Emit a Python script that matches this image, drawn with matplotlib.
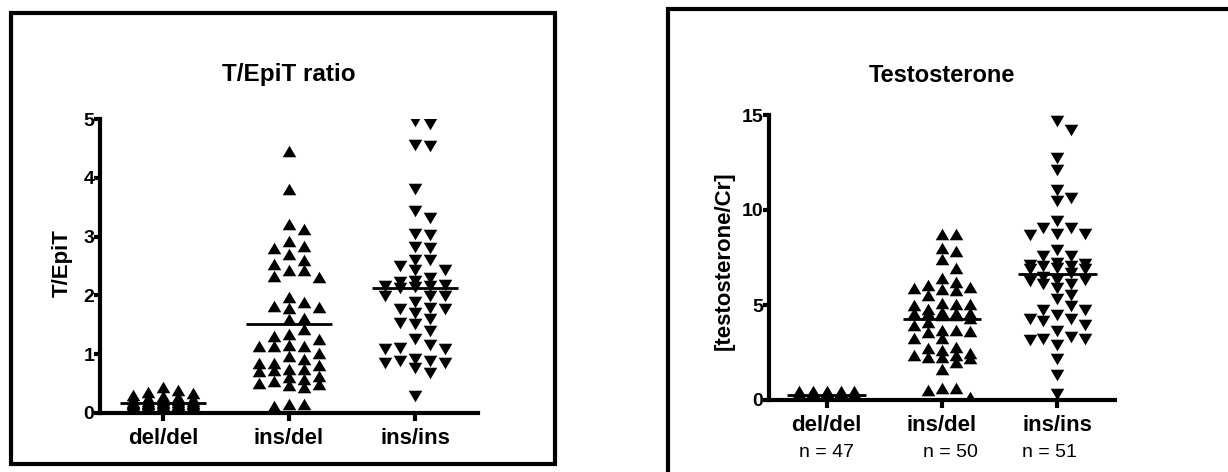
import matplotlib
matplotlib.use('Agg')

import matplotlib.pyplot as plt
from matplotlib.patches import Rectangle
import numpy as np

plt.rcParams['font.family'] = ['Liberation Sans', 'DejaVu Sans']

# ---- data ----
groups = ['del/del', 'ins/del', 'ins/ins']
n_labels = ['n = 47', 'n = 50', 'n = 51']

ratio_deldel = [0.02, 0.03, 0.04, 0.05, 0.05, 0.06, 0.07, 0.07, 0.08, 0.08,
                0.09, 0.09, 0.10, 0.10, 0.10, 0.11, 0.11, 0.12, 0.12, 0.12,
                0.13, 0.13, 0.14, 0.14, 0.15, 0.15, 0.16, 0.16, 0.17, 0.17,
                0.18, 0.18, 0.19, 0.20, 0.20, 0.21, 0.22, 0.23, 0.24, 0.25,
                0.27, 0.29, 0.31, 0.33, 0.35, 0.38, 0.44]
ratio_insdel = [4.46, 3.81, 3.22, 3.13, 2.93, 2.80, 2.84, 2.70, 2.61, 2.53,
                2.43, 2.43, 2.31, 2.33, 1.97, 1.88, 1.80, 1.79, 1.82, 1.62,
                1.59, 1.42, 1.34, 1.31, 1.25, 1.14, 1.14, 1.14, 1.16, 0.97,
                1.02, 0.91, 0.85, 0.82, 0.85, 0.72, 0.74, 0.74, 0.71, 0.63,
                0.57, 0.60, 0.51, 0.48, 0.49, 0.54, 0.43, 0.14, 0.11, 0.14]
ratio_insins = [4.97, 4.92, 4.55, 4.56, 3.81, 3.43, 3.31, 3.02, 3.04, 2.82,
                2.80, 2.61, 2.50, 2.60, 2.43, 2.44, 2.30, 2.22, 2.24, 2.16,
                2.16, 2.13, 2.14, 2.18, 1.99, 1.99, 1.99, 1.88, 1.76, 1.70,
                1.76, 1.79, 1.59, 1.53, 1.52, 1.39, 1.25, 1.08, 1.08, 1.11,
                1.16, 0.85, 0.88, 0.77, 0.91, 0.85, 0.88, 0.68, 0.28]

testo_deldel = [0.08, 0.10, 0.11, 0.12, 0.13, 0.14, 0.15, 0.16, 0.17, 0.18,
                0.18, 0.19, 0.20, 0.20, 0.21, 0.22, 0.22, 0.23, 0.24, 0.24,
                0.25, 0.26, 0.26, 0.27, 0.28, 0.28, 0.29, 0.30, 0.30, 0.31,
                0.32, 0.33, 0.33, 0.34, 0.35, 0.36, 0.37, 0.38, 0.39, 0.40,
                0.42, 0.44, 0.45, 0.47, 0.48, 0.49, 0.50]
testo_insdel = [8.74, 8.76, 7.84, 7.98, 7.40, 6.97, 6.40, 5.88, 6.05, 5.79,
                6.23, 5.84, 5.96, 5.53, 5.00, 5.03, 5.09, 5.03, 4.80, 4.56,
                4.56, 4.65, 4.56, 4.56, 4.09, 3.68, 3.68, 3.63, 3.60, 3.95,
                3.25, 3.25, 2.72, 2.28, 2.37, 2.02, 2.37, 2.46, 2.63, 2.19,
                2.81, 2.28, 1.63, 0.61, 0.17, 0.53, 0.61, 4.50, 4.50, 4.30]
testo_insins = [14.67, 14.20, 12.75, 12.13, 11.04, 10.64, 10.46, 9.41, 9.06, 8.66,
                8.76, 8.76, 9.06, 7.92, 7.60, 7.60, 6.87, 7.18, 7.04, 7.04,
                6.96, 7.22, 6.69, 6.87, 6.34, 6.13, 6.08, 6.25, 6.30, 5.55,
                5.29, 4.76, 4.94, 4.76, 4.24, 4.15, 3.97, 4.24, 4.50, 3.62,
                3.33, 3.22, 2.92, 3.15, 3.22, 2.17, 1.34, 0.29, 7.13, 6.50,
                5.90]

tri_up = [(-1, -0.85), (1, -0.85), (0, 0.85)]
tri_down = [(-1, 0.85), (1, 0.85), (0, -0.85)]
MS = 9.8          # marker size in points
MW, MH = 13, 11   # marker box in pixels


def swarm(ax, xc, vals, step=0.12, max_k=2):
    """GraphPad-like scatter: spread close values sideways into columns."""
    vals = np.asarray(vals, float)
    tr = ax.transData
    ys = tr.transform(np.column_stack([np.full(len(vals), xc), vals]))[:, 1]
    x0 = tr.transform((xc, 0))[0]
    st = tr.transform((xc + step, 0))[0] - x0
    full = [k for k in sorted(range(-max_k, max_k + 1), key=lambda k: (abs(k), -k))]
    halfs = [k + s * 0.5 for k in range(max_k) for s in (1, -1)]
    halfs = [h if h > 0 else -(abs(h)) for h in halfs]
    halfs = [0.5, -0.5, 1.5, -1.5][:2 * max_k]
    placed = []
    xs = np.zeros(len(vals))

    def score_at(xo, y):
        sc = 0.0
        for px, py in placed:
            dx, dy = abs(px - xo), abs(py - y)
            if dx < MW * 0.98 and dy < MH * 0.95:
                sc += (MW - dx) * (MH - dy)
        return sc

    for i in np.argsort(-vals):
        pick = None
        for k in full + halfs:
            if score_at(k * st, ys[i]) == 0:
                pick = k
                break
        if pick is None:
            pick = min(full, key=lambda k: score_at(k * st, ys[i]))
        placed.append((pick * st, ys[i]))
        xs[i] = x0 + pick * st
    return tr.inverted().transform(np.column_stack([xs, ys]))[:, 0]


def style_axes(ax, ymax, yticks):
    ax.set_xlim(-0.5, 2.5)
    ax.set_ylim(0, ymax)
    for s in ('top', 'right'):
        ax.spines[s].set_visible(False)
    for s in ('left', 'bottom'):
        ax.spines[s].set_linewidth(3)
    ax.set_yticks(yticks)
    ax.set_xticks(range(3))
    ax.set_xticklabels(groups, fontsize=16, fontweight='bold')
    ax.tick_params(axis='y', direction='out', length=4, width=3, pad=0,
                   labelsize=14)
    ax.tick_params(axis='x', direction='out', length=6, width=3, pad=5)
    for lab in ax.get_yticklabels():
        lab.set_fontweight('bold')


def draw_group(ax, i, vals, marker):
    xs = swarm(ax, i, vals)
    ax.plot(xs, vals, linestyle='none', marker=marker, markersize=MS,
            color='black', markeredgewidth=0)
    ax.hlines(np.mean(vals), i - 0.34, i + 0.34, color='black', lw=2, zorder=3)


fig = plt.figure(figsize=(12.28, 4.72), dpi=100)

# panel frames
fig.patches.append(Rectangle((10.5 / 1228, 1 - 463.5 / 472), 544.5 / 1228, 451 / 472,
                             transform=fig.transFigure, fill=False, lw=3,
                             edgecolor='black'))
fig.patches.append(Rectangle((668 / 1228, -0.1), 0.6, 1 - 9 / 472 + 0.1,
                             transform=fig.transFigure, fill=False, lw=3,
                             edgecolor='black'))

# left: T/EpiT ratio
ax1 = fig.add_axes([100 / 1228, 1 - 412.7 / 472, 378 / 1228, 293.4 / 472])
style_axes(ax1, 5, range(6))
draw_group(ax1, 0, ratio_deldel, tri_up)
draw_group(ax1, 1, ratio_insdel, tri_up)
draw_group(ax1, 2, ratio_insins, tri_down)
ax1.text(0.5, 1.151, 'T/EpiT ratio', transform=ax1.transAxes, ha='center',
         va='center', fontsize=17.5, fontweight='bold')
ax1.text(-0.099, 0.51, 'T/EpiT', transform=ax1.transAxes, ha='center',
         va='center', rotation=90, fontsize=16, fontweight='bold')

# right: Testosterone
ax2 = fig.add_axes([769 / 1228, 1 - 400 / 472, 346 / 1228, 285 / 472])
style_axes(ax2, 15, [0, 5, 10, 15])
draw_group(ax2, 0, testo_deldel, tri_up)
draw_group(ax2, 1, testo_insdel, tri_up)
draw_group(ax2, 2, testo_insins, tri_down)
ax2.text(0.5, 1.137, 'Testosterone', transform=ax2.transAxes, ha='center',
         va='center', fontsize=17, fontweight='bold')
ax2.text(-0.13, 0.49, '[testosterone/Cr]', transform=ax2.transAxes,
         ha='center', va='center', rotation=90, fontsize=16, fontweight='bold')
for i, (lab, dx) in enumerate(zip(n_labels, [0, 0.07, -0.07])):
    ax2.text(i + dx, -0.1825, lab, transform=ax2.get_xaxis_transform(),
             ha='center', va='center', fontsize=14)

fig.savefig('out.png', dpi=100)
plt.close(fig)
